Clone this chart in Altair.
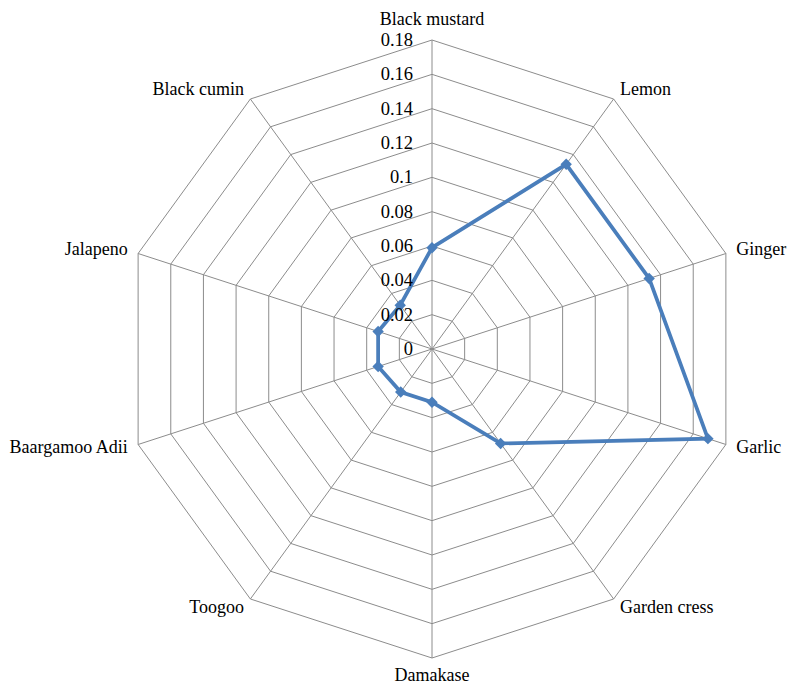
import altair as alt
import numpy as np
import pandas as pd

categories = ["Black mustard", "Lemon", "Ginger", "Garlic", "Garden cress",
              "Damakase", "Toogoo", "Baargamoo Adii", "Jalapeno", "Black cumin"]
values = [0.059, 0.133, 0.133, 0.169, 0.068, 0.031, 0.031, 0.033, 0.033, 0.0315]
ticks = [0, 0.02, 0.04, 0.06, 0.08, 0.10, 0.12, 0.14, 0.16, 0.18]
tick_labels = ["0", "0.02", "0.04", "0.06", "0.08", "0.1", "0.12", "0.14", "0.16", "0.18"]
rmax = 0.18

# layout (pixels)
W, H = 781, 678
CX, CY, R = 424.0, 341.0, 309.0
u = rmax / R
xdom = [-CX * u, (W - CX) * u]
ydom = [-(H - CY) * u, CY * u]
FONT = "Liberation Serif"
FS = 18.5
LFS = 18
GRID = "#8c8c8c"
BLUE = "#4a7ebb"

n = len(categories)
ang = np.arange(n) * 2 * np.pi / n

xs = alt.Scale(domain=xdom, range=[0, W], nice=False, zero=False)
ys = alt.Scale(domain=ydom, range=[H, 0], nice=False, zero=False)

# rings
rows = []
for lv in ticks[1:]:
    for k in range(n + 1):
        a = ang[k % n]
        rows.append({"level": lv, "k": k, "x": lv * np.sin(a), "y": lv * np.cos(a)})
rings = pd.DataFrame(rows)

spokes = pd.DataFrame({"cat": categories, "x": 0.0, "y": 0.0,
                       "x2": rmax * np.sin(ang), "y2": rmax * np.cos(ang)})

vals = np.array(values)
series = pd.DataFrame({"cat": categories + [categories[0]],
                       "k": list(range(n + 1)),
                       "value": list(values) + [values[0]],
                       "x": list(vals * np.sin(ang)) + [vals[0] * np.sin(ang[0])],
                       "y": list(vals * np.cos(ang)) + [vals[0] * np.cos(ang[0])]})

tickdf = pd.DataFrame({"v": ticks, "label": tick_labels, "x": 0.0})

LR_SIDE = 320 * u
LR_TOP = 324 * u
LR_BOT = 318 * u
s = np.sin(ang)
c = np.cos(ang)
side = np.abs(s) > 0.01
LR = np.where(side, LR_SIDE, np.where(c > 0, LR_TOP, LR_BOT))
labdf = pd.DataFrame({"cat": categories, "s": s, "c": c,
                      "x": LR * s, "y": LR * c})

X = lambda f: alt.X(f, type="quantitative", scale=xs, axis=None)
Y = lambda f: alt.Y(f, type="quantitative", scale=ys, axis=None)

ring_layer = alt.Chart(rings).mark_line(color=GRID, strokeWidth=1).encode(
    x=X("x"), y=Y("y"), detail="level:N", order="k:Q")

spoke_layer = alt.Chart(spokes).mark_rule(color=GRID, strokeWidth=1).encode(
    x=X("x"), y=Y("y"), x2="x2:Q", y2="y2:Q")

line_layer = alt.Chart(series).mark_line(color=BLUE, strokeWidth=3.75).encode(
    x=X("x"), y=Y("y"), order="k:Q")

point_layer = alt.Chart(series.iloc[:n]).mark_point(
    shape="diamond", filled=True, color=BLUE, size=130, opacity=1).encode(
    x=X("x"), y=Y("y"))

tick_layer = alt.Chart(tickdf).mark_text(
    align="right", baseline="middle", dx=-19, font=FONT, fontSize=FS, color="#000").encode(
    x=X("x"), y=Y("v"), text="label:N")

def lab(filter_expr, **kw):
    return alt.Chart(labdf).transform_filter(filter_expr).mark_text(
        font=FONT, fontSize=LFS, color="#000", **kw).encode(
        x=X("x"), y=Y("y"), text="cat:N")

lab_right = lab("datum.s > 0.01", align="left", baseline="middle")
lab_left = lab("datum.s < -0.01", align="right", baseline="middle")
lab_top = lab("abs(datum.s) <= 0.01 && datum.c > 0", align="center", baseline="alphabetic")
lab_bot = lab("abs(datum.s) <= 0.01 && datum.c < 0", align="center", baseline="top")

chart = alt.layer(ring_layer, spoke_layer, line_layer, point_layer, tick_layer,
                  lab_right, lab_left, lab_top, lab_bot).properties(
    width=W, height=H, padding=0, background="white",
    autosize=alt.AutoSizeParams(type="none")
).configure_view(stroke=None, strokeWidth=0)

chart.save("out.html", embed_options={"renderer": "svg", "actions": False})
